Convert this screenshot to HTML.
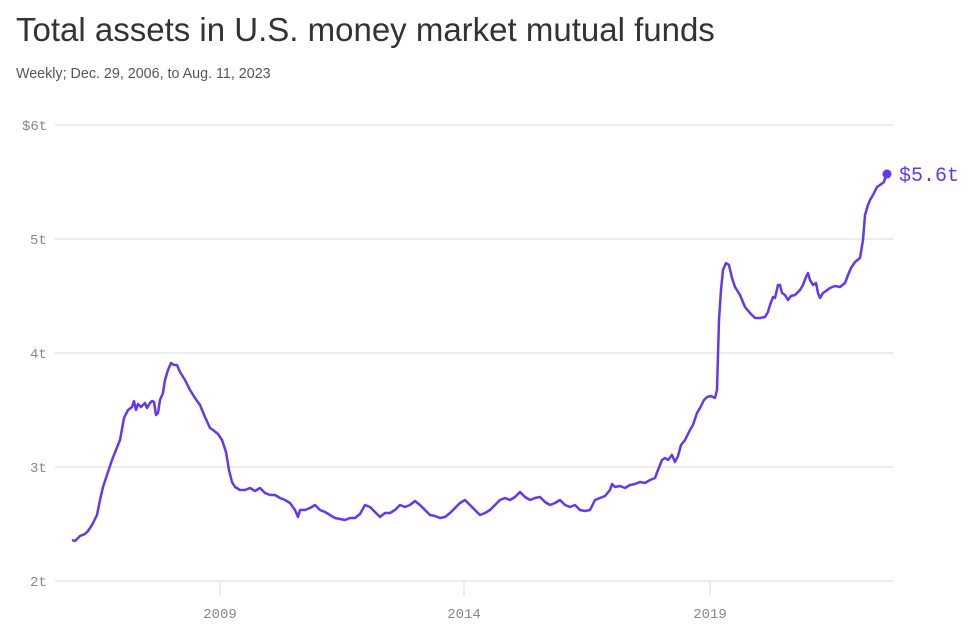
<!DOCTYPE html>
<html><head><meta charset="utf-8"><style>
body{margin:0;background:#fff;width:979px;height:637px;overflow:hidden;font-family:"Liberation Sans",sans-serif}
h1{position:absolute;left:16px;top:11px;margin:0;font-weight:400;font-size:33px;color:#333;letter-spacing:0}
.sub{position:absolute;left:16px;top:66px;font-size:14.3px;color:#555}
</style></head><body>
<h1>Total assets in U.S. money market mutual funds</h1>
<div class="sub">Weekly; Dec. 29, 2006, to Aug. 11, 2023</div>
<svg width="979" height="637" style="position:absolute;left:0;top:0">
<g stroke="#e6e6e6" stroke-width="1.5">
<line x1="55" x2="893" y1="125" y2="125"/><line x1="55" x2="893" y1="239" y2="239"/>
<line x1="55" x2="893" y1="353" y2="353"/><line x1="55" x2="893" y1="467" y2="467"/>
<line x1="55" x2="893" y1="581" y2="581"/>
<line x1="220" x2="220" y1="581" y2="596"/><line x1="464" x2="464" y1="581" y2="596"/><line x1="710" x2="710" y1="581" y2="596"/>
</g>
<g font-family="Liberation Mono,monospace" font-size="14" fill="#888">
<text x="22" y="130">$6t</text><text x="30" y="244">5t</text><text x="30" y="358">4t</text><text x="30" y="472">3t</text><text x="30" y="586">2t</text>
<text x="220" y="618" text-anchor="middle">2009</text><text x="464" y="618" text-anchor="middle">2014</text><text x="710" y="618" text-anchor="middle">2019</text>
</g>
<polyline fill="none" stroke="#6538ef" stroke-width="2.5" stroke-linejoin="round" points="72,540 75,541 80,536 85,534 88,531 92,525 97,515 100,500 103,487 107,475 112,460 116,450 120,440 124,418 128,410 132,407 134,401 136,410 138,404 141,407 145,403 147,408 150,403 152,401 154,402 156,415 158,413 160,400 163,393 165,380 168,370 171,363 174,365 177,365 180,372 185,380 190,390 195,398 200,405 205,417 210,428 213,430 218,434 222,440 226,452 229,470 232,482 235,487 240,490 245,490 250,488 255,491 260,488 265,493 270,495 275,495 280,498 285,500 290,503 295,510 298,517 300,510 305,510 310,508 315,505 320,510 325,512 330,515 335,518 340,519 345,520 350,518 355,518 360,514 365,505 370,507 375,512 380,517 385,513 390,513 395,510 400,505 405,507 410,505 415,501 420,505 425,510 430,515 435,516 440,518 445,517 450,513 455,508 460,503 465,500 470,505 475,510 480,515 485,513 490,510 495,505 500,500 505,498 510,500 515,497 520,492 525,497 530,500 535,498 540,497 545,502 550,505 555,503 560,500 565,505 570,507 575,505 580,510 585,511 590,510 595,500 600,498 605,496 610,490 612,484 615,487 620,486 625,488 630,485 635,484 640,482 645,483 650,480 655,478 658,470 662,460 665,458 668,460 672,455 675,462 678,456 681,445 685,440 690,430 693,425 697,413 700,408 704,400 707,397 711,396 715,398 717,390 719,320 721,290 723,270 726,263 729,265 732,278 735,287 740,295 745,307 750,313 755,318 760,318 765,317 768,312 770,305 773,297 775,298 778,285 780,285 782,293 785,295 788,300 791,296 795,295 800,290 803,285 806,277 808,273 810,280 813,285 816,283 818,293 820,298 823,293 826,291 830,288 835,286 840,287 845,283 848,275 851,268 855,262 860,258 863,240 865,215 868,205 870,200 873,195 877,187 880,185 884,182 886,175"/>
<circle cx="887" cy="174" r="4.5" fill="#6538ef"/>
<text x="899" y="181" font-family="Liberation Mono,monospace" font-size="20" fill="#6538ef">$5.6t</text>
</svg>
</body></html>
